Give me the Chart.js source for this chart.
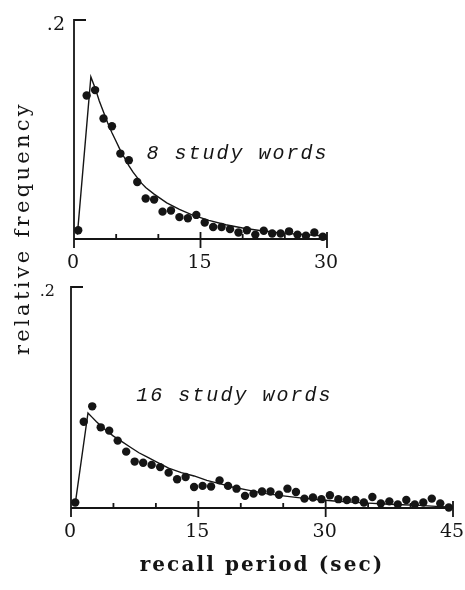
<!DOCTYPE html>
<html>
<head>
<meta charset="utf-8">
<script src="https://cdn.jsdelivr.net/npm/chart.js@4/dist/chart.umd.min.js"></script>
<style>
  html, body { margin: 0; padding: 0; background: #fff; }
  #cadre { position: relative; width: 465px; height: 590px; }
  #cadre canvas { position: absolute; left: 0; top: 0; }
</style>
</head>
<body>
<div id="cadre">
  <canvas id="chart8" width="465" height="590"></canvas>
  <canvas id="chart16" width="465" height="590"></canvas>
</div>
<script>
// ---- 8 mots étudiés : fréquences observées par seconde ----
const temps8 = [0.5, 1.5, 2.5, 3.5, 4.5, 5.5, 6.5, 7.5, 8.5, 9.5,
  10.5, 11.5, 12.5, 13.5, 14.5, 15.5, 16.5, 17.5, 18.5, 19.5,
  20.5, 21.5, 22.5, 23.5, 24.5, 25.5, 26.5, 27.5, 28.5, 29.5];
const freq8 = [0.008, 0.131, 0.136, 0.110, 0.103, 0.078, 0.072, 0.052, 0.037, 0.036,
  0.025, 0.026, 0.020, 0.019, 0.022, 0.015, 0.011, 0.011, 0.009, 0.006,
  0.008, 0.004, 0.0075, 0.005, 0.005, 0.007, 0.004, 0.003, 0.006, 0.002];
// courbe ajustée
const tempsModele8 = [0.4, 2.0, 2.5, 3, 3.5, 4, 4.5, 5, 5.5, 6, 6.5, 7, 7.5, 8, 8.5, 9.5, 11, 12.5, 14,
  16, 18, 20, 22, 24, 26, 28, 30];
const modele8 = [0.004, 0.148, 0.138, 0.126, 0.116, 0.106, 0.097, 0.089, 0.081, 0.074, 0.067, 0.061,
  0.056, 0.051, 0.047, 0.041, 0.033, 0.027, 0.022, 0.017, 0.013, 0.010, 0.0078, 0.006, 0.0047,
  0.0036, 0.0028];

// ---- 16 mots étudiés ----
const temps16 = [0.5, 1.5, 2.5, 3.5, 4.5, 5.5, 6.5, 7.5, 8.5, 9.5,
  10.5, 11.5, 12.5, 13.5, 14.5, 15.5, 16.5, 17.5, 18.5, 19.5,
  20.5, 21.5, 22.5, 23.5, 24.5, 25.5, 26.5, 27.5, 28.5, 29.5,
  30.5, 31.5, 32.5, 33.5, 34.5, 35.5, 36.5, 37.5, 38.5, 39.5,
  40.5, 41.5, 42.5, 43.5, 44.5];
const freq16 = [0.005, 0.078, 0.092, 0.073, 0.070, 0.061, 0.051, 0.042, 0.041, 0.039,
  0.037, 0.032, 0.026, 0.028, 0.019, 0.020, 0.0195, 0.025, 0.020, 0.0175,
  0.011, 0.013, 0.015, 0.015, 0.012, 0.0175, 0.0145, 0.0085, 0.0095, 0.008,
  0.0115, 0.008, 0.0072, 0.0072, 0.005, 0.010, 0.0042, 0.006, 0.0033, 0.0072,
  0.0033, 0.005, 0.0085, 0.0042, 0.0004];
const tempsModele16 = [0.5, 2.0, 2.5, 3, 4, 5, 6, 7, 8, 9, 10, 11.5, 13, 14.5, 16, 17.5, 19, 21, 23, 25, 27,
  29, 31, 33, 35, 37, 39, 41, 43, 45];
const modele16 = [0.004, 0.086, 0.082, 0.078, 0.071, 0.065, 0.060, 0.055, 0.050, 0.046, 0.042, 0.036,
  0.032, 0.029, 0.025, 0.022, 0.019, 0.016, 0.013, 0.011, 0.0092, 0.0077, 0.0064, 0.0053, 0.0044,
  0.0036, 0.003, 0.0024, 0.0015, 0.0008];

// graduations
const graduations8 = [0, 15, 30];
const graduationsMin8 = [5, 10, 20, 25];
const graduations16 = [0, 15, 30, 45];
const graduationsMin16 = [5, 10, 20, 25, 35, 40];

const encre = "#151515";

// axes en équerre, graduations croisées et étiquettes, tracés à partir des échelles
const axesTraces = {
  id: "axesTraces",
  beforeDatasetsDraw(chart, args, o) {
    const ctx = chart.ctx, sx = chart.scales.x, sy = chart.scales.y;
    const x0 = sx.getPixelForValue(0), y0 = sy.getPixelForValue(0);
    const xFin = sx.getPixelForValue(sx.max), yHaut = sy.getPixelForValue(0.2);
    ctx.save();
    ctx.strokeStyle = encre;
    ctx.lineWidth = 1.8;
    ctx.beginPath();
    ctx.moveTo(x0 + 12, yHaut);
    ctx.lineTo(x0, yHaut);
    ctx.lineTo(x0, y0 + 9);
    ctx.moveTo(x0, y0);
    ctx.lineTo(xFin, y0);
    o.majeures.forEach(v => {
      const px = sx.getPixelForValue(v);
      ctx.moveTo(px, y0 - 7);
      ctx.lineTo(px, y0 + 9);
    });
    o.mineures.forEach(v => {
      const px = sx.getPixelForValue(v);
      ctx.moveTo(px, y0 - 5);
      ctx.lineTo(px, y0);
    });
    ctx.stroke();

    ctx.fillStyle = encre;
    ctx.font = '19px "DejaVu Serif"';
    ctx.textAlign = "center";
    ctx.textBaseline = "top";
    o.majeures.forEach(v => ctx.fillText(String(v), sx.getPixelForValue(v) - 1, y0 + 15));

    ctx.font = o.taillePoint + 'px "DejaVu Serif"';
    ctx.textAlign = "right";
    ctx.textBaseline = "middle";
    ctx.fillText(".2", x0 - o.ecartPoint, yHaut + 5);

    ctx.font = 'italic 20px "Liberation Mono"';
    ctx.letterSpacing = "2px";
    ctx.textAlign = "left";
    ctx.textBaseline = "alphabetic";
    ctx.fillText(o.note, sx.getPixelForValue(o.noteX), sy.getPixelForValue(o.noteY));
    ctx.restore();
  }
};

// titres des axes communs aux deux panneaux
const titresCommuns = {
  id: "titresCommuns",
  afterDraw(chart) {
    const ctx = chart.ctx;
    ctx.save();
    ctx.fillStyle = encre;
    ctx.textAlign = "center";
    ctx.textBaseline = "middle";
    ctx.font = 'bold 20px "DejaVu Serif"';
    ctx.letterSpacing = "2.1px";
    ctx.fillText("recall period (sec)", 262, 566);
    ctx.translate(24, 228);
    ctx.rotate(-Math.PI / 2);
    ctx.font = '21px "DejaVu Serif"';
    ctx.letterSpacing = "3.3px";
    ctx.fillText("relative frequency", 0, 0);
    ctx.restore();
  }
};

function panneau(id, temps, freq, tempsModele, modele, xMax, padding, opts, extra) {
  return new Chart(document.getElementById(id), {
    type: "scatter",
    data: {
      datasets: [
        {
          data: temps.map((t, i) => ({ x: t, y: freq[i] })),
          backgroundColor: encre,
          borderWidth: 0,
          pointRadius: 4.2,
          clip: false
        },
        {
          type: "line",
          data: tempsModele.map((t, i) => ({ x: t, y: modele[i] })),
          borderColor: encre,
          borderWidth: 1.4,
          pointRadius: 0,
          tension: 0,
          fill: false,
          clip: false
        }
      ]
    },
    options: {
      responsive: false,
      animation: false,
      devicePixelRatio: 1,
      layout: { padding: padding },
      scales: {
        x: { type: "linear", min: 0, max: xMax, display: false },
        y: { type: "linear", min: 0, max: 0.2, display: false }
      },
      plugins: {
        legend: { display: false },
        tooltip: { enabled: false },
        axesTraces: opts
      }
    },
    plugins: [axesTraces].concat(extra)
  });
}

panneau("chart8", temps8, freq8, tempsModele8, modele8, 30,
  { left: 74, top: 20, right: 138, bottom: 351 },
  { majeures: graduations8, mineures: graduationsMin8, taillePoint: 19, ecartPoint: 9,
    note: "8 study words", noteX: 8.6, noteY: 0.073 }, []);

panneau("chart16", temps16, freq16, tempsModele16, modele16, 45,
  { left: 71, top: 287, right: 12, bottom: 82 },
  { majeures: graduations16, mineures: graduationsMin16, taillePoint: 16, ecartPoint: 16,
    note: "16 study words", noteX: 7.7, noteY: 0.097 }, [titresCommuns]);
</script>
</body>
</html>
